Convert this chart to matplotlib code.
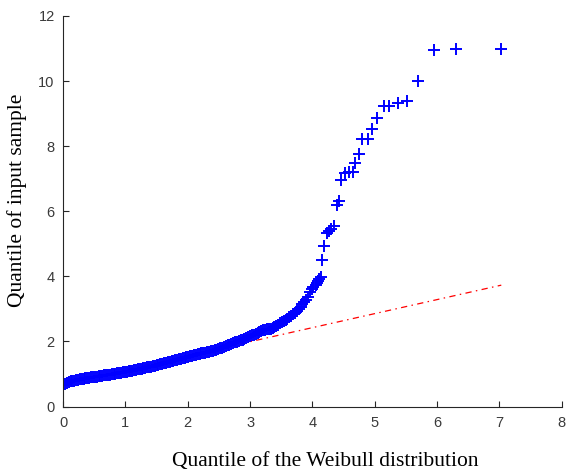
import matplotlib
matplotlib.use("Agg")
import matplotlib.pyplot as plt

# Weibull Q-Q plot: theoretical quantiles vs sorted sample
weibull_q = [
    0.00, 0.03, 0.06, 0.09, 0.12, 0.15, 0.18, 0.21, 0.24, 0.27,
    0.30, 0.33, 0.36, 0.39, 0.42, 0.45, 0.48, 0.51, 0.54, 0.57,
    0.60, 0.63, 0.66, 0.69, 0.72, 0.75, 0.78, 0.81, 0.84, 0.87,
    0.90, 0.93, 0.96, 0.99, 1.02, 1.05, 1.08, 1.11, 1.14, 1.17,
    1.20, 1.23, 1.26, 1.29, 1.32, 1.35, 1.38, 1.41, 1.44, 1.47,
    1.50, 1.53, 1.56, 1.59, 1.62, 1.65, 1.68, 1.71, 1.74, 1.77,
    1.80, 1.83, 1.86, 1.89, 1.92, 1.95, 1.98, 2.01, 2.04, 2.07,
    2.10, 2.13, 2.16, 2.19, 2.22, 2.25, 2.28, 2.31, 2.34, 2.37,
    2.40, 2.43, 2.46, 2.49, 2.52, 2.55, 2.58, 2.61, 2.64, 2.67,
    2.70, 2.73, 2.76, 2.79, 2.82, 2.85, 2.88, 2.91, 2.94, 2.97,
    3.00, 3.03, 3.06, 3.09, 3.12, 3.15, 3.18, 3.21, 3.24, 3.27,
    3.30, 3.33, 3.36, 3.39, 3.42, 3.45, 3.48, 3.51, 3.54, 3.57,
    3.60, 3.63, 3.66, 3.69, 3.72, 3.75, 3.78, 3.81, 3.84, 3.87,
    3.90, 3.93, 3.96, 3.99, 4.01, 4.05, 4.07, 4.09, 4.10, 4.13,
    4.16, 4.19, 4.24, 4.27, 4.30, 4.34, 4.40, 4.43, 4.46, 4.53,
    4.59, 4.65, 4.69, 4.74, 4.80, 4.89, 4.96, 5.04, 5.15, 5.23,
    5.37, 5.52, 5.70, 5.95, 6.31, 7.03,
]
sample_q = [
    0.66, 0.70, 0.73, 0.75, 0.77, 0.79, 0.80, 0.81, 0.82, 0.84,
    0.85, 0.86, 0.87, 0.88, 0.89, 0.90, 0.90, 0.91, 0.92, 0.93,
    0.94, 0.95, 0.96, 0.97, 0.97, 0.98, 0.99, 1.00, 1.01, 1.02,
    1.03, 1.04, 1.05, 1.06, 1.07, 1.08, 1.09, 1.10, 1.12, 1.13,
    1.14, 1.15, 1.16, 1.18, 1.19, 1.20, 1.22, 1.23, 1.25, 1.26,
    1.28, 1.29, 1.31, 1.32, 1.34, 1.35, 1.37, 1.38, 1.40, 1.41,
    1.43, 1.44, 1.46, 1.47, 1.49, 1.50, 1.52, 1.53, 1.55, 1.56,
    1.57, 1.59, 1.60, 1.62, 1.63, 1.65, 1.66, 1.68, 1.69, 1.71,
    1.72, 1.74, 1.75, 1.77, 1.79, 1.81, 1.83, 1.86, 1.88, 1.90,
    1.93, 1.95, 1.97, 1.99, 2.01, 2.03, 2.05, 2.08, 2.10, 2.13,
    2.16, 2.19, 2.21, 2.24, 2.27, 2.29, 2.32, 2.34, 2.36, 2.37,
    2.38, 2.39, 2.41, 2.44, 2.48, 2.52, 2.56, 2.59, 2.62, 2.66,
    2.70, 2.74, 2.78, 2.83, 2.88, 2.94, 3.00, 3.07, 3.14, 3.20,
    3.27, 3.36, 3.53, 3.62, 3.68, 3.74, 3.80, 3.86, 3.91, 3.99,
    4.49, 4.93, 5.34, 5.39, 5.45, 5.55, 6.18, 6.32, 6.95, 7.17,
    7.20, 7.20, 7.47, 7.77, 8.22, 8.22, 8.54, 8.88, 9.23, 9.23,
    9.34, 9.39, 10.01, 10.96, 10.99, 10.99,
]

# fitted reference line, extended over the full quantile range
ref_x = [0.00, 7.03]
ref_y = [0.70, 3.73]

x_ticks = [0, 1, 2, 3, 4, 5, 6, 7, 8]
y_ticks = [0, 2, 4, 6, 8, 10, 12]

fig = plt.figure(figsize=(5.68, 4.70), dpi=100)
ax = fig.add_axes([0.111, 0.135, 0.878, 0.831])

ax.plot(ref_x, ref_y, color="red", linewidth=0.9,
        linestyle=(0, (5, 3.5, 1.2, 3.5)), zorder=1)
ax.plot(weibull_q, sample_q, linestyle="none", marker="+", markersize=8.2,
        markeredgewidth=1.4, color="#0000ff", zorder=2)

ax.set_xlim(0, 8)
ax.set_ylim(0, 12)
ax.set_xticks(x_ticks)
ax.set_yticks(y_ticks)

for side in ("top", "right"):
    ax.spines[side].set_visible(False)
for side in ("left", "bottom"):
    ax.spines[side].set_color("#262626")
    ax.spines[side].set_linewidth(0.8)

ax.tick_params(direction="in", length=4, width=0.8, color="#262626",
               labelcolor="#3a3a3a", labelsize=10.5)
ax.tick_params(axis="x", pad=7)
ax.tick_params(axis="y", pad=6)
for lab in ax.get_xticklabels() + ax.get_yticklabels():
    lab.set_family("Liberation Sans")

xl = ax.set_xlabel("Quantile of the Weibull distribution",
                   family="Liberation Serif", fontsize=15.5)
xl.set_verticalalignment("baseline")
ax.xaxis.set_label_coords(0.526, -0.152)

yl = ax.set_ylabel("Quantile of input sample",
                   family="Liberation Serif", fontsize=15.5)
yl.set_verticalalignment("center")
ax.yaxis.set_label_coords(-0.092, 0.529)

fig.savefig("out.png", dpi=100)
